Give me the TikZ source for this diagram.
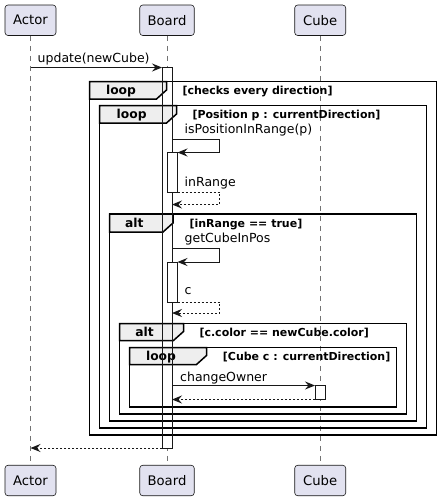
\documentclass[tikz,border=0pt]{standalone}
\usepackage{fontspec}
\setmainfont{DejaVu Sans}
\usetikzlibrary{arrows.meta}
\definecolor{partfill}{HTML}{E2E2F0}
\definecolor{ink}{HTML}{181818}
\definecolor{tabfill}{HTML}{EEEEEE}
\tikzset{
 participant/.style={draw=ink, fill=partfill, rounded corners=3pt, line width=0.6pt, minimum height=30.5pt, inner sep=0pt, font=\fontsize{13.2}{15}\selectfont, text=black},
 lifeline/.style={draw=black!55, line width=0.6pt, dash pattern=on 5pt off 5pt},
 actbar/.style={draw=ink, line width=1pt, fill=white},
 barline/.style={draw=ink, line width=1pt},
 frameline/.style={draw=black, line width=1.5pt},
 tabshape/.style={draw=black, line width=1.5pt, fill=tabfill},
 msg/.style={draw=ink, line width=1pt, -{Stealth[length=10pt,width=8pt,inset=3.5pt]}},
 ret/.style={msg, dash pattern=on 2pt off 2pt},
 msgtext/.style={font=\fontsize{12.5}{14}\selectfont, inner sep=0pt, anchor=base west},
 tablabel/.style={font=\bfseries\fontsize{12.3}{14}\selectfont, inner sep=0pt, anchor=base},
 guard/.style={font=\bfseries\fontsize{11}{13}\selectfont, inner sep=0pt, anchor=base west},
}
\begin{document}
\begin{tikzpicture}[x=1pt,y=-1pt]
\useasboundingbox[fill=white] (0,0) rectangle (441,501);
% participants
\node[participant, minimum width=51pt] (actorTop) at (30.5,20.25) {Actor};
\node[participant, minimum width=54.5pt] (boardTop) at (167,20.25) {Board};
\node[participant, minimum width=51pt] (cubeTop) at (320.2,20.25) {Cube};
\node[participant, minimum width=51pt] (actorBot) at (30.5,480.5) {Actor};
\node[participant, minimum width=54.5pt] (boardBot) at (167,480.5) {Board};
\node[participant, minimum width=51pt] (cubeBot) at (320.2,480.5) {Cube};
% lifelines
\draw[lifeline] (actorTop.south) -- (actorBot.north);
\draw[lifeline] (boardTop.south) -- (boardBot.north);
\draw[lifeline] (cubeTop.south) -- (cubeBot.north);
% main activation of Board
\coordinate (barTL) at (162,67.5);
\coordinate (barBR) at (172,448);
\fill[white] (barTL) rectangle (barBR);
% frames
\draw[frameline] (89.5,81.5) rectangle (436.5,435);
\draw[tabshape] (89.5,81.5) -- (166.5,81.5) -- (166.5,90) -- (156.5,99) -- (89.5,99) -- cycle;
\draw[frameline] (99.5,105.5) rectangle (426.5,428);
\draw[tabshape] (99.5,105.5) -- (176.5,105.5) -- (176.5,114) -- (166.5,123) -- (99.5,123) -- cycle;
\draw[frameline] (109.5,214) rectangle (416.5,421);
\draw[tabshape] (109.5,214) -- (173,214) -- (173,223) -- (163,232) -- (109.5,232) -- cycle;
\draw[frameline] (119.5,323.5) rectangle (406.5,414);
\draw[tabshape] (119.5,323.5) -- (183.5,323.5) -- (183.5,331.5) -- (173.5,340.5) -- (119.5,340.5) -- cycle;
\draw[frameline] (129.5,347.5) rectangle (396.5,407);
\draw[tabshape] (129.5,347.5) -- (206.5,347.5) -- (206.5,355.5) -- (196.5,364.5) -- (129.5,364.5) -- cycle;
% frame labels
\node[tablabel] (lbl1) at (121,94.5) {loop};
\node[guard] (grd1) at (182.3,94.5) {[checks every direction]};
\node[tablabel] (lbl2) at (131.7,118) {loop};
\node[guard] (grd2) at (192.3,118) {[Position p : currentDirection]};
\node[tablabel] (lbl3) at (134.2,227.3) {alt};
\node[guard] (grd3) at (189.3,227.3) {[inRange == true]};
\node[tablabel] (lbl4) at (144.5,336.5) {alt};
\node[guard] (grd4) at (199.3,336.5) {[c.color == newCube.color]};
\node[tablabel] (lbl5) at (161,360.5) {loop};
\node[guard] (grd5) at (222.7,360.5) {[Cube c : currentDirection]};
% bar outline over frames
\draw[barline] (barTL) rectangle (barBR);
% nested activations
\draw[actbar] (167.5,152.5) rectangle (177.5,192);
\draw[actbar] (167.5,262) rectangle (177.5,302);
\draw[actbar] (315,385.5) rectangle (325.5,399.5);
% message endpoints
\coordinate (m1s) at (30.5,67.5);
\coordinate (m1e) at (162,67.5);
\coordinate (s1a) at (172,139.5);
\coordinate (s1b) at (219.5,139.5);
\coordinate (s1c) at (219.5,152.5);
\coordinate (s1d) at (177.5,152.5);
\coordinate (r1a) at (177.5,192);
\coordinate (r1b) at (219.5,192);
\coordinate (r1c) at (219.5,204.5);
\coordinate (r1d) at (172,204.5);
\coordinate (s2a) at (172,248.5);
\coordinate (s2b) at (219.5,248.5);
\coordinate (s2c) at (219.5,262);
\coordinate (s2d) at (177.5,262);
\coordinate (r2a) at (177.5,302);
\coordinate (r2b) at (219.5,302);
\coordinate (r2c) at (219.5,313);
\coordinate (r2d) at (172,313);
\coordinate (c1s) at (172,385.5);
\coordinate (c1e) at (315,385.5);
\coordinate (c2s) at (315,399.5);
\coordinate (c2e) at (172,399.5);
\coordinate (fs) at (162,448);
\coordinate (fe) at (30.5,448);
% messages
\draw[msg] (m1s) -- (m1e);
\draw[msg] (s1a) -- (s1b) -- (s1c) -- (s1d);
\draw[ret] (r1a) -- (r1b) -- (r1c) -- (r1d);
\draw[msg] (s2a) -- (s2b) -- (s2c) -- (s2d);
\draw[ret] (r2a) -- (r2b) -- (r2c) -- (r2d);
\draw[msg] (c1s) -- (c1e);
\draw[ret] (c2s) -- (c2e);
\draw[ret] (fs) -- (fe);
% message texts
\node[msgtext] (t1) at (37.5,62.5) {update(newCube)};
\node[msgtext] (t2) at (184.5,133.5) {isPositionInRange(p)};
\node[msgtext] (t3) at (184.5,186.5) {inRange};
\node[msgtext] (t4) at (184.5,242.5) {getCubeInPos};
\node[msgtext] (t5) at (184.5,294.5) {c};
\node[msgtext] (t6) at (180,381) {changeOwner};
\end{tikzpicture}
\end{document}
